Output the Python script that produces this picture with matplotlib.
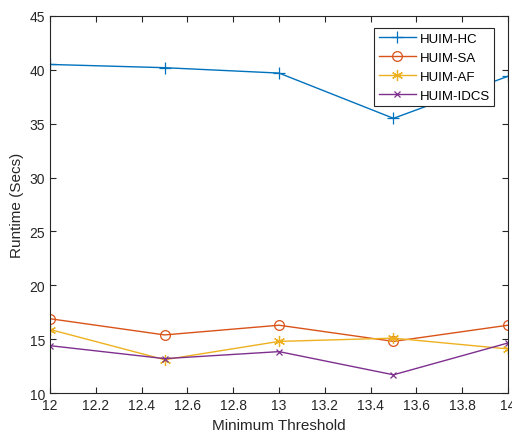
import numpy as np
import matplotlib.pyplot as plt

plt.rcParams['font.family'] = ['Liberation Sans', 'DejaVu Sans']

thresholds = [12, 12.5, 13, 13.5, 14]
huim_hc = [40.5, 40.2, 39.7, 35.5, 39.4]
huim_sa = [16.9, 15.4, 16.3, 14.8, 16.3]
huim_af = [15.9, 13.1, 14.8, 15.1, 14.1]
huim_idcs = [14.4, 13.2, 13.85, 11.7, 14.65]

fig = plt.figure(figsize=(5.12, 4.35), dpi=100)
ax = fig.add_axes([0.098, 0.094, 0.894, 0.867])

ax.plot(thresholds, huim_hc, color='#0072BD', marker='+', markersize=8, mew=0.9, lw=1, label='HUIM-HC')
ax.plot(thresholds, huim_sa, color='#D95319', marker='o', markersize=7, mew=0.9, mfc='none', lw=1, label='HUIM-SA')
ax.plot(thresholds, huim_af, color='#EDB120', marker=(6, 2, 0), markersize=8, mew=0.9, lw=1, label='HUIM-AF')
ax.plot(thresholds, huim_idcs, color='#7E2F8E', marker='x', markersize=5, mew=0.9, lw=1, label='HUIM-IDCS')

ax.set_xlim(12, 14)
ax.set_ylim(10, 45)
ax.set_xticks(np.arange(12, 14.01, 0.2))
ax.set_xticklabels(['12', '12.2', '12.4', '12.6', '12.8', '13', '13.2', '13.4', '13.6', '13.8', '14'])
ax.set_yticks(range(10, 46, 5))
ax.tick_params(direction='in', top=True, right=True, labelsize=10, colors='#262626', length=4)
for s in ax.spines.values():
    s.set_color('#262626')
    s.set_linewidth(0.8)

ax.set_xlabel('Minimum Threshold', fontsize=11, color='#262626')
ax.set_ylabel('Runtime (Secs)', fontsize=11, color='#262626')

leg = ax.legend(loc='upper right', bbox_to_anchor=(0.985, 0.985), fontsize=9.5, fancybox=False,
                edgecolor='#262626', framealpha=1, borderpad=0.35, labelspacing=0.5,
                handlelength=2.8, handletextpad=0.3)
leg.get_frame().set_linewidth(0.8)

plt.savefig('out.png', dpi=100)
